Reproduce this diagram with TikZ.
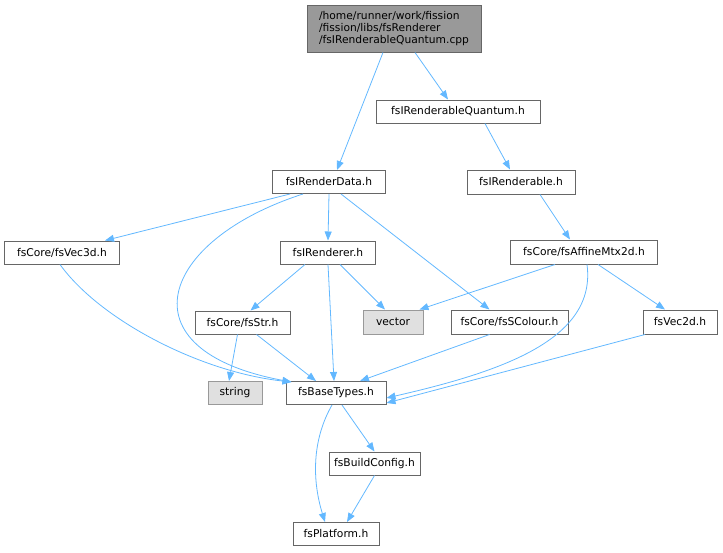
\documentclass[tikz,border=0pt]{standalone}
\usepackage{fontspec}
\setmainfont{DejaVu Sans}
\usetikzlibrary{arrows.meta}
\definecolor{edgec}{HTML}{63B8FF}
\definecolor{bordc}{HTML}{666666}
\definecolor{extb}{HTML}{999999}
\definecolor{extf}{HTML}{E0E0E0}
\begin{document}
\begin{tikzpicture}[x=1pt,y=-1pt,
  box/.style={draw=bordc, fill=white, line width=1pt, inner sep=0pt, font=\fontsize{10.7}{12}\selectfont},
  ext/.style={box, draw=extb, fill=extf},
  rootbox/.style={box, fill=extb, align=left, font=\fontsize{10.7}{11.8}\selectfont},
  e/.style={draw=edgec, line width=0.8pt, -{Triangle[length=9pt,width=7pt]}}]
\useasboundingbox (0,0) rectangle (723,552);

\node[rootbox, minimum width=174, minimum height=47] (root) at (394,28.5)
  {/home/runner/work/fission\\/fission/libs/fsRenderer\\/fsIRenderableQuantum.cpp};
\node[box, minimum width=164, minimum height=23] (quant) at (458,111.5) {fsIRenderableQuantum.h};
\node[box, minimum width=113, minimum height=23] (rdata) at (329,182) {fsIRenderData.h};
\node[box, minimum width=108, minimum height=24] (rable) at (521,182) {fsIRenderable.h};
\node[box, minimum width=147, minimum height=24] (affine) at (584,252) {fsCore/fsAffineMtx2d.h};
\node[box, minimum width=115, minimum height=23] (vec3d) at (62,252.5) {fsCore/fsVec3d.h};
\node[box, minimum width=95, minimum height=23] (renderer) at (328,252.5) {fsIRenderer.h};
\node[ext, minimum width=60, minimum height=24] (vector) at (393,322) {vector};
\node[box, minimum width=117, minimum height=24] (scolour) at (509.5,322) {fsCore/fsSColour.h};
\node[box, minimum width=74, minimum height=24] (vec2d) at (680,322) {fsVec2d.h};
\node[box, minimum width=95, minimum height=23] (str) at (242.5,322.5) {fsCore/fsStr.h};
\node[ext, minimum width=54, minimum height=23] (string) at (235,393) {string};
\node[box, minimum width=100, minimum height=23] (base) at (336,393) {fsBaseTypes.h};
\node[box, minimum width=91, minimum height=23] (build) at (374.5,463.5) {fsBuildConfig.h};
\node[box, minimum width=86, minimum height=23] (platform) at (336,534) {fsPlatform.h};

\draw[e] ([xshift=-11]root.south) -- ([xshift=8]rdata.north);
\draw[e] ([xshift=21]root.south) -- ([xshift=-10]quant.north);
\draw[e] ([xshift=27]quant.south) -- ([xshift=-11]rable.north);
\draw[e] ([xshift=19]rable.south) -- ([xshift=-14]affine.north);
\draw[e] ([xshift=-39]rdata.south) -- ([xshift=43]vec3d.north);
\draw[e] (rdata.south) -- (renderer.north);
\draw[e] ([xshift=-26]rdata.south) .. controls (160,240) and (120,350) .. ([xshift=6,yshift=-1]base.north west);
\draw[e] ([xshift=12]rdata.south) -- ([xshift=-20]scolour.north);
\draw[e] ([xshift=-2]vec3d.south) .. controls (100,320) and (200,372) .. ([xshift=6,yshift=-1]base.north west);
\draw[e] ([xshift=-23]renderer.south) -- ([xshift=8]str.north);
\draw[e] (renderer.south) -- ([xshift=-2]base.north);
\draw[e] ([xshift=12]renderer.south) -- ([xshift=-8]vector.north);
\draw[e] ([xshift=-29]affine.south) -- ([xshift=-4]vector.north east);
\draw[e] ([xshift=14]affine.south) -- ([xshift=-15]vec2d.north);
\draw[e] ([xshift=3]affine.south) .. controls (597,340) and (500,372) .. ([yshift=-5]base.east);
\draw[e] ([xshift=-35]vec2d.south) -- ([yshift=-10]base.east);
\draw[e] ([xshift=-20]scolour.south) -- ([xshift=24]base.north);
\draw[e] ([xshift=-5]str.south) -- ([xshift=-6]string.north);
\draw[e] ([xshift=14]str.south) -- ([xshift=-20]base.north);
\draw[e] ([xshift=6]base.south) -- (build.north);
\draw[e] ([xshift=-4]base.south) .. controls (312,440) and (312,480) .. ([xshift=-11]platform.north);
\draw[e] (build.south) -- ([xshift=11]platform.north);
\end{tikzpicture}
\end{document}
